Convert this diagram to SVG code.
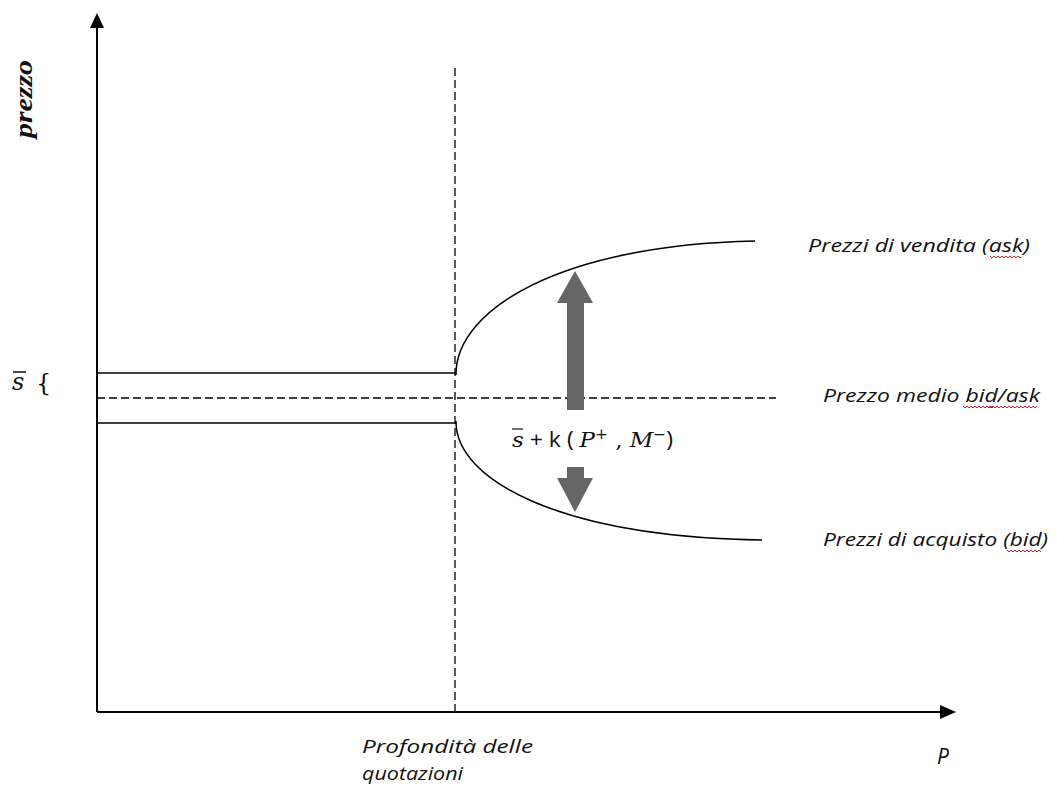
<svg xmlns="http://www.w3.org/2000/svg" width="1057" height="794" viewBox="0 0 1057 794">
<defs>
<style>
.ax{stroke:#000;stroke-width:2;fill:none}
.ln{stroke:#000;stroke-width:1.5;fill:none}
.dash{stroke:#000;stroke-width:1.3;fill:none;stroke-dasharray:8 4}
.lbl{font-family:"Open Sans","Liberation Sans",sans-serif;font-style:italic;font-size:18px;fill:#111}
.math{font-family:"DejaVu Serif","Liberation Serif",serif;fill:#111}
.sq{stroke:#e02020;stroke-width:1;fill:none}
.garrow{fill:#666}
</style>
</defs>
<rect width="1057" height="794" fill="#fff"/>
<g id="axes">
<line class="ax" x1="97" y1="712" x2="97" y2="24"/>
<line class="ax" x1="97" y1="712" x2="944" y2="712"/>
<path d="M90,28 L97,13 L104,28 z" fill="#000"/>
<path d="M940,705 L956,712 L940,719 z" fill="#000"/>
</g>
<g id="connectors">
<line class="dash" x1="455" y1="68" x2="455" y2="712"/>
<line class="dash" x1="97" y1="398" x2="776" y2="398"/>
<line class="ln" x1="97" y1="373" x2="456" y2="373"/>
<line class="ln" x1="97" y1="423" x2="456" y2="423"/>
<path class="ln" d="M456,375 C455,310 560,245 755,241"/>
<path class="ln" d="M456,421 C455,480 560,537 762,540"/>
</g>
<g id="arrow-up">
<path class="garrow" d="M567,410 L567,303 L557,303 L575,271 L593,303 L584,303 L584,410 z"/>
</g>
<g id="arrow-down">
<path class="garrow" d="M567,467 L567,478 L557,478 L575,512 L593,478 L584,478 L584,467 z"/>
</g>
<g id="label-prezzo">
<text transform="translate(32,138) rotate(-90)" font-family="Liberation Serif, serif" font-weight="bold" font-style="italic" font-size="26" textLength="78" lengthAdjust="spacingAndGlyphs" fill="#111">prezzo</text>
</g>
<g id="label-sbar">
<text x="12" y="390" class="math" font-size="24" font-style="italic">s</text>
<line x1="13" y1="372" x2="26" y2="372" stroke="#111" stroke-width="1.5"/>
<text x="36" y="391" class="math" font-size="24">{</text>
</g>
<g id="label-formula">
<text x="512" y="447" class="math" font-size="21" textLength="161" lengthAdjust="spacingAndGlyphs"><tspan font-style="italic">s</tspan><tspan font-family="Open Sans, sans-serif"> + k ( </tspan><tspan font-style="italic">P</tspan><tspan font-size="14" dy="-8">+</tspan><tspan dy="8"> , </tspan><tspan font-style="italic">M</tspan><tspan font-size="14" dy="-8">−</tspan><tspan dy="8" font-family="Open Sans, sans-serif">)</tspan></text>
<line x1="512" y1="429" x2="523" y2="429" stroke="#111" stroke-width="1.2"/>
</g>
<g id="label-ask">
<text x="808" y="252" class="lbl" textLength="222" lengthAdjust="spacingAndGlyphs">Prezzi di vendita  (ask)</text>
<path class="sq" d="M990,256 l2,2 l2,-2 l2,2 l2,-2 l2,2 l2,-2 l2,2 l2,-2 l2,2 l2,-2 l2,2 l2,-2 l2,2 l2,-2 l2,2 l1,-1"/>
</g>
<g id="label-mid">
<text x="823" y="402" class="lbl" textLength="217" lengthAdjust="spacingAndGlyphs">Prezzo medio bid/ask</text>
<path class="sq" d="M963,406 l2,2 l2,-2 l2,2 l2,-2 l2,2 l2,-2 l2,2 l2,-2 l2,2 l2,-2 l2,2 l2,-2 l2,2 l2,-2 l2,2 M989,406 l2,2 l2,-2 l2,2 l2,-2 l2,2 l2,-2 l2,2 l2,-2 l2,2 l2,-2 l2,2 l2,-2 l2,2 l2,-2 l2,2 l2,-2 l2,2 l2,-2 l2,2 l2,-2 l2,2 l2,-2 l2,2 l2,-2"/>
</g>
<g id="label-bid">
<text x="823" y="546" class="lbl" textLength="225" lengthAdjust="spacingAndGlyphs">Prezzi di acquisto  (bid)</text>
<path class="sq" d="M1007,550 l2,2 l2,-2 l2,2 l2,-2 l2,2 l2,-2 l2,2 l2,-2 l2,2 l2,-2 l2,2 l2,-2 l2,2 l2,-2 l2,2 l2,-2 l2,2"/>
</g>
<g id="label-depth">
<text x="362" y="753" class="lbl" textLength="171" lengthAdjust="spacingAndGlyphs">Profondità delle</text>
<text x="362" y="780" class="lbl" textLength="101" lengthAdjust="spacingAndGlyphs">quotazioni</text>
</g>
<g id="label-P">
<text x="937" y="764" class="lbl" style="font-size:21px">P</text>
</g>
</svg>
